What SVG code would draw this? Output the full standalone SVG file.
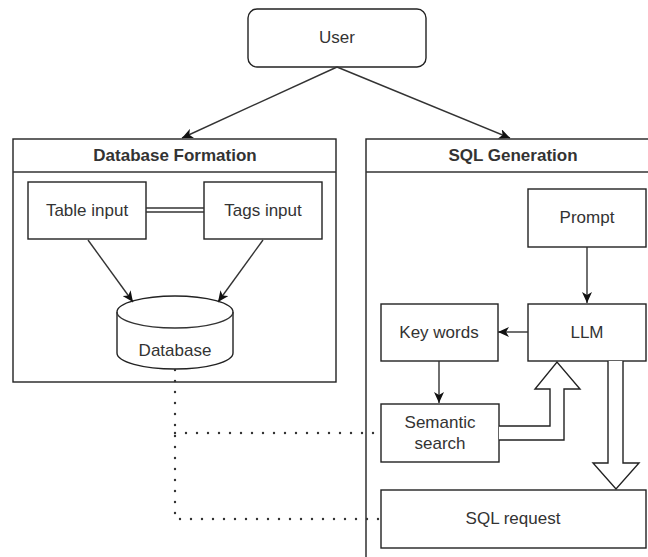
<svg xmlns="http://www.w3.org/2000/svg" width="648" height="557" viewBox="0 0 648 557">
<style>
.box{fill:#fff;stroke:#222;stroke-width:1.4}
.t{font-family:"Liberation Sans",Arial,sans-serif;font-size:17px;fill:#333;text-anchor:middle}
.b{font-weight:bold}
.ln{fill:none;stroke:#333;stroke-width:1.4}
.dot{fill:none;stroke:#333;stroke-width:2.4;stroke-linecap:round;stroke-dasharray:0 11}
.hol{fill:#fff;stroke:#222;stroke-width:1.4;stroke-linejoin:miter}
</style>
<defs>
<marker id="ah" markerUnits="userSpaceOnUse" markerWidth="12" markerHeight="10" viewBox="0 0 12 10" refX="11" refY="5" orient="auto">
<path d="M0,0 L11,5 L0,10 L3,5 Z" fill="#111"/>
</marker>
</defs>
<rect width="648" height="557" fill="#fff"/>
<g id="user"><rect class="box" x="248" y="9" width="178" height="58" rx="9"/><text class="t" x="337" y="43">User</text></g>
<g id="db-formation"><rect class="box" x="13" y="139" width="323" height="243"/><line class="ln" x1="13" y1="172" x2="336" y2="172"/><text class="t b" x="175" y="161">Database Formation</text></g>
<g id="sql-generation"><rect class="box" x="366" y="139" width="300" height="440"/><line class="ln" x1="366" y1="172" x2="666" y2="172"/><text class="t b" x="513" y="161">SQL Generation</text></g>
<g id="table-input"><rect class="box" x="28" y="182" width="118" height="57"/><text class="t" x="87" y="216">Table input</text></g>
<g id="tags-input"><rect class="box" x="204" y="182" width="118" height="57"/><text class="t" x="263" y="216">Tags input</text></g>
<g id="database"><path class="box" d="M117,312 A58,16 0 0 1 233,312 L233,353 A58,16 0 0 1 117,353 Z"/><path class="ln" d="M117,312 A58,16 0 0 0 233,312"/><text class="t" x="175" y="356">Database</text></g>
<g id="prompt"><rect class="box" x="528" y="189" width="118" height="58"/><text class="t" x="587" y="223">Prompt</text></g>
<g id="llm"><rect class="box" x="528" y="304" width="118" height="57"/><text class="t" x="587" y="338">LLM</text></g>
<g id="key-words"><rect class="box" x="381" y="304" width="117" height="57"/><text class="t" x="439" y="338">Key words</text></g>
<g id="semantic-search"><rect class="box" x="381" y="404" width="118" height="58"/><text class="t" x="440" y="428">Semantic</text><text class="t" x="440" y="449">search</text></g>
<g id="sql-request"><rect class="box" x="381" y="490" width="265" height="58"/><text class="t" x="513" y="524">SQL request</text></g>
<g id="connectors">
<line class="ln" x1="337" y1="67" x2="182" y2="138" marker-end="url(#ah)"/>
<line class="ln" x1="337" y1="67" x2="510" y2="138" marker-end="url(#ah)"/>
<line class="ln" x1="146" y1="208" x2="204" y2="208"/>
<line class="ln" x1="146" y1="212" x2="204" y2="212"/>
<line class="ln" x1="88" y1="240" x2="133" y2="302" marker-end="url(#ah)"/>
<line class="ln" x1="263" y1="240" x2="218" y2="302" marker-end="url(#ah)"/>
<line class="ln" x1="587" y1="247" x2="587" y2="303" marker-end="url(#ah)"/>
<line class="ln" x1="528" y1="332" x2="498" y2="332" marker-end="url(#ah)"/>
<line class="ln" x1="439" y1="361" x2="439" y2="403" marker-end="url(#ah)"/>
<path class="hol" d="M499,426 L550,426 L550,389 L535,389 L557,362 L580,389 L564,389 L564,440 L499,440"/>
<path class="hol" d="M608,361 L608,463 L593,463 L616,489 L639,463 L623,463 L623,361"/>
<path class="dot" d="M175,370 L175,519 L381,519"/>
<path class="dot" d="M175,433 L381,433"/>
</g>
</svg>
